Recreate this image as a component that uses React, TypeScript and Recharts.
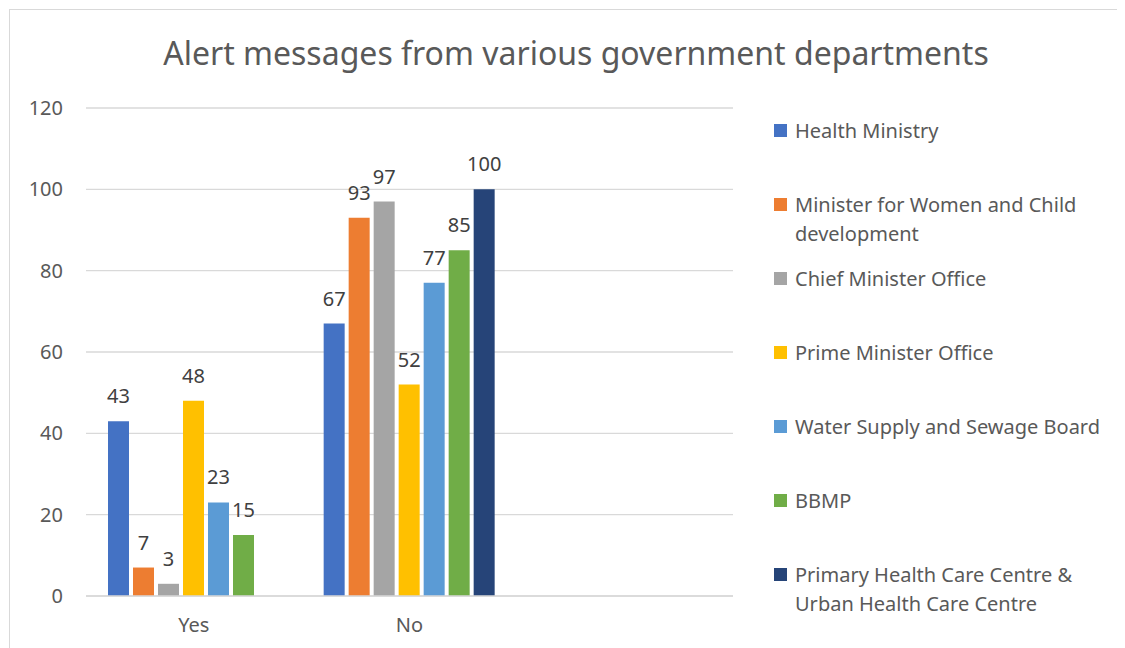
import * as React from "react";
import { BarChart, Bar, XAxis, YAxis, CartesianGrid, Legend, LabelList } from "recharts";

const categories = ["Yes", "No", ""];

const healthMinistry = [43, 67, null];
const womenChild = [7, 93, null];
const chiefMinister = [3, 97, null];
const primeMinister = [48, 52, null];
const waterSupply = [23, 77, null];
const bbmp = [15, 85, null];
const primaryHealth = [null, 100, null];

const yTicks = [0, 20, 40, 60, 80, 100, 120];

const series = [
    { key: "health", name: "Health Ministry", values: healthMinistry, color: "#4472C4" },
    { key: "women", name: "Minister for Women and Child development", values: womenChild, color: "#ED7D31" },
    { key: "chief", name: "Chief Minister Office", values: chiefMinister, color: "#A5A5A5" },
    { key: "prime", name: "Prime Minister Office", values: primeMinister, color: "#FFC000" },
    { key: "water", name: "Water Supply and Sewage Board", values: waterSupply, color: "#5B9BD5" },
    { key: "bbmp", name: "BBMP", values: bbmp, color: "#70AD47" },
    { key: "phc", name: "Primary Health Care Centre & Urban Health Care Centre", values: primaryHealth, color: "#264478" },
];

const data = categories.map((c, i) => {
    const row: any = { name: c };
    series.forEach(s => { row[s.key] = s.values[i]; });
    return row;
});

const FONT = "'Noto Sans', sans-serif";

// keep the series order (recharts sorts the payload by name otherwise)
const renderLegend = () => {
    return <div style={{ fontFamily: FONT, fontSize: 20, color: "#595959" }}>
        {series.map(s => (
            <div key={s.key} style={{ height: 74, display: "flex", alignItems: "flex-start" }}>
                <span style={{ width: 13, height: 13, background: s.color, marginTop: 8, marginRight: 8, flexShrink: 0 }} />
                <span style={{ lineHeight: "29px", width: 330 }}>{s.name}</span>
            </div>
        ))}
    </div>;
};

const App = () => {
    return <div style={{ position: "relative", width: 1116, height: 639, border: "1px solid #d9d9d9", borderRight: "none", borderBottom: "none", boxSizing: "border-box", marginLeft: 1, marginTop: 1, background: "#fff" }}>
        <style>{"html,body{overflow:hidden}"}</style>
        <div style={{ position: "absolute", top: 21, left: 0, width: 1132, textAlign: "center", fontFamily: FONT, fontSize: 32, color: "#595959" }}>
            Alert messages from various government departments
        </div>
        <BarChart width={1115} height={638} data={data} barSize={21} barGap={4}
            margin={{ top: 98, right: 392, left: 16, bottom: 22 }} style={{ fontFamily: FONT }}>
            <CartesianGrid vertical={false} stroke="#d9d9d9" strokeWidth={1.3} />
            <XAxis dataKey="name" stroke="#d9d9d9" strokeWidth={1.3} tickLine={false} height={30}
                tick={{ fill: "#595959", fontSize: 20 }} tickMargin={16} />
            <YAxis domain={[0, 120]} ticks={yTicks} axisLine={false} tickLine={false} width={60}
                tick={{ fill: "#595959", fontSize: 20 }} tickMargin={17} />
            <Legend layout="vertical" align="center" verticalAlign="middle" content={renderLegend}
                wrapperStyle={{ top: 106, left: 764, width: 350 }} />
            {series.map(s => (
                <Bar key={s.key} dataKey={s.key} name={s.name} fill={s.color} isAnimationActive={false}>
                    <LabelList dataKey={s.key} position="top" offset={18} fill="#404040" fontSize={20} />
                </Bar>
            ))}
        </BarChart>
    </div>;
};

export default App;
